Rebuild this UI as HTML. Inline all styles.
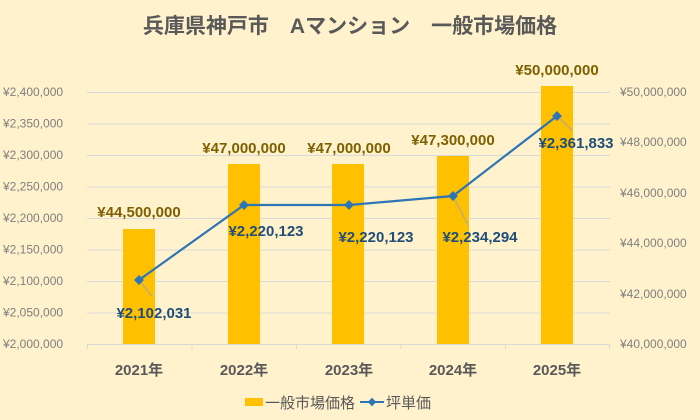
<!DOCTYPE html>
<html><head><meta charset="utf-8"><style>
body{margin:0;background:#FFF2CC;}
svg{display:block;font-family:"Liberation Sans","Noto Sans CJK JP",sans-serif;}
</style></head><body>
<svg width="700" height="420" viewBox="0 0 700 420">
<rect width="700" height="420" fill="#FFF2CC"/>
<text x="350" y="33" text-anchor="middle" font-size="21" font-weight="bold" fill="#595959">兵庫県神戸市　Aマンション　一般市場価格</text>
<g stroke="#D9D9D9" stroke-width="1">
<line x1="87" x2="610" y1="92.5" y2="92.5"/><line x1="87" x2="610" y1="124" y2="124"/>
<line x1="87" x2="610" y1="155.5" y2="155.5"/><line x1="87" x2="610" y1="187" y2="187"/>
<line x1="87" x2="610" y1="218.5" y2="218.5"/><line x1="87" x2="610" y1="250" y2="250"/>
<line x1="87" x2="610" y1="281.5" y2="281.5"/><line x1="87" x2="610" y1="313" y2="313"/>
<line x1="87" x2="610" y1="344.5" y2="344.5"/>
<line x1="87.5" x2="87.5" y1="344" y2="349"/><line x1="192" x2="192" y1="344" y2="349"/>
<line x1="296.5" x2="296.5" y1="344" y2="349"/><line x1="401" x2="401" y1="344" y2="349"/>
<line x1="505.5" x2="505.5" y1="344" y2="349"/><line x1="609.5" x2="609.5" y1="344" y2="349"/>
</g>
<g font-size="12" fill="#7F7F7F" text-anchor="start">
<text x="3" y="96">¥2,400,000</text><text x="3" y="127.5">¥2,350,000</text>
<text x="3" y="159">¥2,300,000</text><text x="3" y="190.5">¥2,250,000</text>
<text x="3" y="222">¥2,200,000</text><text x="3" y="253.5">¥2,150,000</text>
<text x="3" y="285">¥2,100,000</text><text x="3" y="316.5">¥2,050,000</text>
<text x="3" y="348">¥2,000,000</text>
</g>
<g font-size="12" fill="#7F7F7F" text-anchor="start">
<text x="620" y="96">¥50,000,000</text><text x="620" y="146">¥48,000,000</text>
<text x="620" y="197">¥46,000,000</text><text x="620" y="247">¥44,000,000</text>
<text x="620" y="298">¥42,000,000</text><text x="620" y="348">¥40,000,000</text>
</g>
<g fill="#FFC000">
<rect x="123" y="229" width="32" height="115"/>
<rect x="228" y="164" width="32" height="180"/>
<rect x="332" y="164" width="32" height="180"/>
<rect x="437" y="156" width="32" height="188"/>
<rect x="541" y="86" width="32" height="258"/>
</g>
<g font-size="15" font-weight="bold" fill="#7F6000" text-anchor="middle">
<text x="139" y="217">¥44,500,000</text><text x="244" y="153">¥47,000,000</text>
<text x="349" y="153">¥47,000,000</text><text x="453" y="145">¥47,300,000</text>
<text x="557" y="75">¥50,000,000</text>
</g>
<g stroke="#A6A6A6" stroke-width="1">
<line x1="139" y1="280" x2="152" y2="296"/><line x1="453" y1="196" x2="468" y2="225"/>
<line x1="557" y1="116" x2="572" y2="130"/>
</g>
<polyline points="139,280 244,205 349,205 453,196 557,116" fill="none" stroke="#2E75B6" stroke-width="2.2"/>
<g fill="#2E75B6">
<rect x="135.5" y="276.5" width="7" height="7" transform="rotate(45 139 280)"/>
<rect x="240.5" y="201.5" width="7" height="7" transform="rotate(45 244 205)"/>
<rect x="345.5" y="201.5" width="7" height="7" transform="rotate(45 349 205)"/>
<rect x="449.5" y="192.5" width="7" height="7" transform="rotate(45 453 196)"/>
<rect x="553.5" y="112.5" width="7" height="7" transform="rotate(45 557 116)"/>
</g>
<g font-size="15" font-weight="bold" fill="#1F4E79" text-anchor="middle">
<text x="154" y="318">¥2,102,031</text><text x="266" y="236">¥2,220,123</text>
<text x="376" y="242">¥2,220,123</text><text x="480" y="242">¥2,234,294</text>
<text x="576" y="148">¥2,361,833</text>
</g>
<g font-size="15" font-weight="bold" fill="#595959" text-anchor="middle">
<text x="139" y="375">2021年</text><text x="244" y="375">2022年</text>
<text x="349" y="375">2023年</text><text x="453" y="375">2024年</text>
<text x="557" y="375">2025年</text>
</g>
<rect x="245" y="398" width="18" height="8" fill="#FFC000"/>
<text x="265" y="408" font-size="15" fill="#595959">一般市場価格</text>
<line x1="360" x2="384" y1="402" y2="402" stroke="#2E75B6" stroke-width="2"/>
<rect x="369" y="399" width="6" height="6" fill="#2E75B6" transform="rotate(45 372 402)"/>
<text x="386" y="408" font-size="15" fill="#595959">坪単価</text>
</svg>
</body></html>
